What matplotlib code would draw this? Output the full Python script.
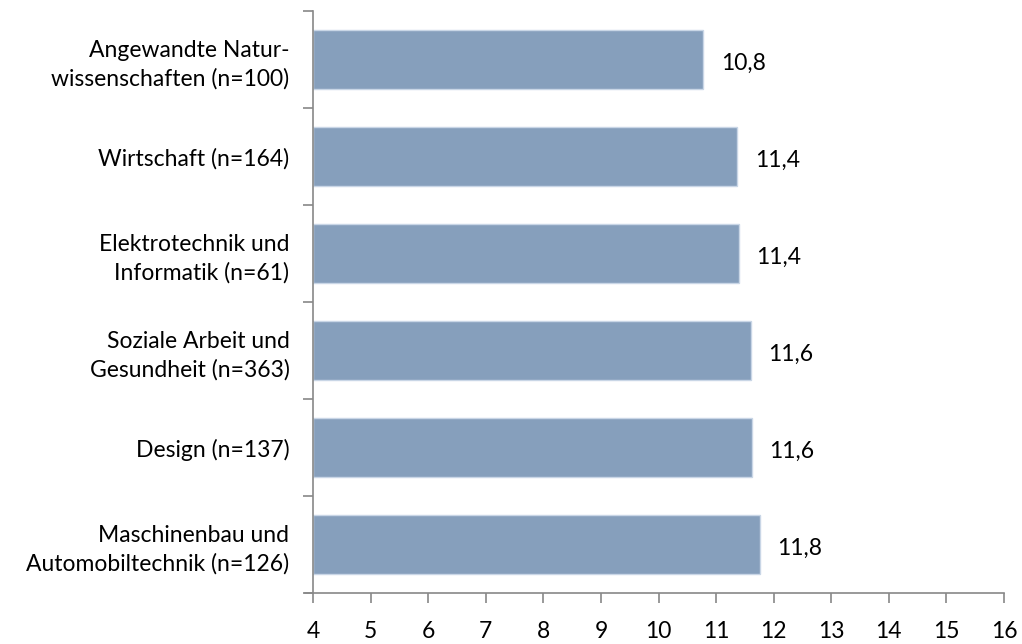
import matplotlib.pyplot as plt
import numpy as np

categories = [
    "Angewandte Natur-\nwissenschaften (n=100)",
    "Wirtschaft (n=164)",
    "Elektrotechnik und\nInformatik (n=61)",
    "Soziale Arbeit und\nGesundheit (n=363)",
    "Design (n=137)",
    "Maschinenbau und\nAutomobiltechnik (n=126)",
]
values = [10.78, 11.37, 11.39, 11.6, 11.62, 11.76]
value_labels = ["10,8", "11,4", "11,4", "11,6", "11,6", "11,8"]
x_ticks = list(range(4, 17))

plt.rcParams["font.family"] = ["Lato", "DejaVu Sans"]

fig = plt.figure(figsize=(10.22, 6.44), dpi=100)
ax = fig.add_axes([313 / 1022, 1 - 593 / 644, (1004 - 313) / 1022, (593 - 11) / 644])

y = np.arange(len(categories))
ax.barh(y, np.array(values) - 4, left=4, height=0.6,
        color="#869fbc", edgecolor="#c9d6e6", linewidth=1)

for yi, v, lab in zip(y, values, value_labels):
    ax.text(v + 0.3, yi + 0.04, lab, va="center", ha="left",
            fontsize=16.5, color="black")

ax.set_xlim(4, 16)
ax.set_ylim(len(categories) - 0.5, -0.5)

ax.set_xticks(x_ticks)
ax.set_xticklabels([str(t) for t in x_ticks], fontsize=16.5)
ax.set_yticks(y)
ax.set_yticklabels(categories, fontsize=16.5, linespacing=1.4)
ax.tick_params(axis="y", length=0, pad=17)
ax.set_yticks(np.arange(-0.5, len(categories)), minor=True)
ax.tick_params(axis="y", which="minor", length=7, color="#888888", width=1.2)
ax.tick_params(axis="x", length=7, color="#888888", width=1.2, pad=13)

for side in ["top", "right"]:
    ax.spines[side].set_visible(False)
for side in ["left", "bottom"]:
    ax.spines[side].set_color("#888888")
    ax.spines[side].set_linewidth(1.2)
ax.spines["bottom"].set_bounds(3.86, 16)

fig.savefig("out.png", dpi=100)
